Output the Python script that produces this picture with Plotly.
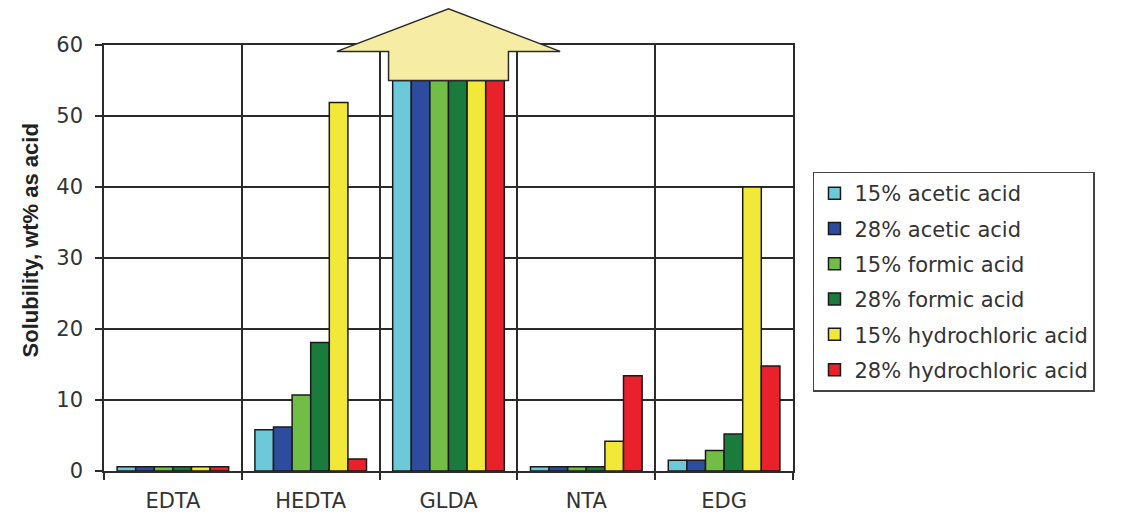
import plotly.graph_objects as go

# Chelating agents on the category axis
categories = ["EDTA", "HEDTA", "GLDA", "NTA", "EDG"]

# Solubility (wt% as acid) for each acid system
series_names = [
    "15% acetic acid",
    "28% acetic acid",
    "15% formic acid",
    "28% formic acid",
    "15% hydrochloric acid",
    "28% hydrochloric acid",
]
acetic_15 = [0.6, 5.8, 55, 0.6, 1.5]
acetic_28 = [0.6, 6.2, 55, 0.6, 1.5]
formic_15 = [0.6, 10.7, 55, 0.6, 2.9]
formic_28 = [0.6, 18.1, 55, 0.6, 5.2]
hcl_15 = [0.6, 51.9, 55, 4.2, 40.0]
hcl_28 = [0.6, 1.7, 55, 13.4, 14.8]
series_values = [acetic_15, acetic_28, formic_15, formic_28, hcl_15, hcl_28]

series_colors = ["#6cc9da", "#2d4c9e", "#72bd45", "#1b7b3c", "#f1e83a", "#e8212b"]

y_ticks = [0, 10, 20, 30, 40, 50, 60]
y_range = [0, 60]

# "Off the scale" arrow drawn over GLDA: (category, body bottom, head base, tip)
arrow_category = "GLDA"
arrow_levels = [55, 59.1, 65.1]
arrow_body_half = 0.435
arrow_head_half = 0.81

TEXT_FONT = "DejaVu Sans"
GRID = "#2b2b2b"

fig = go.Figure()
for name, vals, col in zip(series_names, series_values, series_colors):
    fig.add_trace(
        go.Bar(
            x=categories,
            y=vals,
            name=name,
            legendgroup=name,
            marker=dict(color=col, line=dict(color="#1a1a1a", width=1.5)),
        )
    )

# Arrow geometry converted to paper coordinates via the axis ranges
n_cat = len(categories)
x_lo, x_hi = -0.5, n_cat - 0.5
ci = categories.index(arrow_category)


def px(v):
    return (v - x_lo) / (x_hi - x_lo)


def py(v):
    return (v - y_range[0]) / (y_range[1] - y_range[0])


b0, hb, tip = arrow_levels
pts = [
    (ci - arrow_body_half, b0),
    (ci - arrow_body_half, hb),
    (ci - arrow_head_half, hb),
    (ci, tip),
    (ci + arrow_head_half, hb),
    (ci + arrow_body_half, hb),
    (ci + arrow_body_half, b0),
]
path = "M " + " L ".join(f"{px(x):.5f},{py(y):.5f}" for x, y in pts) + " Z"
fig.add_shape(
    type="path",
    path=path,
    xref="paper",
    yref="paper",
    fillcolor="#f7eca4",
    line=dict(color="#2b2b2b", width=1.5),
    layer="above",
)

fig.add_annotation(
    text="<b>Solubility, wt% as acid</b>",
    textangle=-90,
    xref="paper",
    yref="paper",
    x=-0.128,
    y=0.542,
    showarrow=False,
    font=dict(family="Liberation Sans", size=22, color="#222222"),
)

fig.update_layout(
    width=1121,
    height=514,
    margin=dict(l=104, r=328, t=45, b=43),
    paper_bgcolor="white",
    plot_bgcolor="white",
    barmode="group",
    bargap=0.19,
    bargroupgap=0,
    showlegend=True,
    legend=dict(
        x=1.029,
        y=0.703,
        xanchor="left",
        yanchor="top",
        bordercolor="#444444",
        borderwidth=1.5,
        bgcolor="white",
        font=dict(family=TEXT_FONT, size=21, color="#333333"),
        tracegroupgap=5,
        traceorder="grouped",
    ),
    xaxis=dict(
        type="category",
        range=[x_lo, x_hi],
        tickson="boundaries",
        ticks="outside",
        ticklen=7,
        tickwidth=1.5,
        tickcolor=GRID,
        showgrid=True,
        gridcolor=GRID,
        gridwidth=1.5,
        showline=True,
        linecolor=GRID,
        linewidth=1.5,
        mirror=True,
        automargin=False,
        ticklabelstandoff=10,
        tickfont=dict(family=TEXT_FONT, size=21, color="#333333"),
        fixedrange=True,
    ),
    yaxis=dict(
        range=y_range,
        tickvals=y_ticks,
        ticks="outside",
        ticklen=7,
        tickwidth=1.5,
        tickcolor=GRID,
        showgrid=True,
        gridcolor=GRID,
        gridwidth=1.5,
        zeroline=False,
        showline=True,
        linecolor=GRID,
        linewidth=1.5,
        mirror=True,
        automargin=False,
        ticklabelstandoff=8,
        tickfont=dict(family=TEXT_FONT, size=21, color="#333333"),
        fixedrange=True,
    ),
)

fig.write_html("out.html", config={"displayModeBar": False})
